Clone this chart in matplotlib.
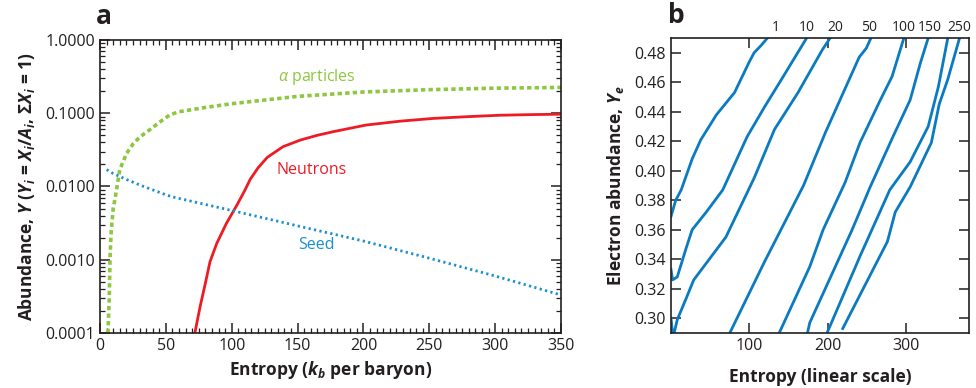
import matplotlib
matplotlib.use("Agg")
import matplotlib.pyplot as plt
from matplotlib.ticker import FixedLocator, MultipleLocator, FormatStrFormatter, LogLocator, NullFormatter
import matplotlib.transforms as mtransforms

plt.rcParams["font.family"] = ["Open Sans", "DejaVu Sans"]
plt.rcParams["mathtext.fontset"] = "custom"
plt.rcParams["mathtext.rm"] = "Open Sans"
plt.rcParams["mathtext.it"] = "Open Sans:italic"
plt.rcParams["mathtext.bf"] = "Open Sans:bold"
plt.rcParams["mathtext.bfit"] = "Open Sans:italic:bold"

# ---- panel a data ----
alpha_x = [6, 7, 7.6, 8.5, 10, 11.5, 15, 20, 25, 30, 38, 45, 53, 60, 80, 100, 150, 200, 250, 300, 350]
alpha_y = [1e-4, 3e-4, 1.1e-3, 2.5e-3, 5e-3, 7e-3, 0.017, 0.028, 0.038, 0.047, 0.06, 0.075, 0.095,
           0.105, 0.12, 0.135, 0.17, 0.195, 0.21, 0.22, 0.225]
neut_x = [72, 76, 80, 83.5, 88.6, 96, 104, 110, 114, 120, 127, 139, 152, 165, 177, 202, 228, 253,
          280, 304, 330, 350]
neut_y = [1e-4, 2.3e-4, 4.8e-4, 9.4e-4, 1.67e-3, 3.15e-3, 5.6e-3, 8.9e-3, 0.0125, 0.018, 0.025,
          0.035, 0.043, 0.05, 0.056, 0.069, 0.078, 0.085, 0.09, 0.094, 0.096, 0.097]
seed_x = [5, 10, 20, 30, 40, 50, 55, 100, 150, 200, 250, 300, 350]
seed_y = [0.017, 0.015, 0.0125, 0.0105, 0.009, 0.0077, 0.0072, 0.0047, 0.0029, 0.0018,
          0.00105, 0.0006, 0.00033]

# ---- panel b data: contours, (entropy, Ye) ----
curves_b = [
    ([0, 6, 13, 27, 38, 58, 81, 100, 106, 115, 123],
     [0.369, 0.38, 0.387, 0.408, 0.421, 0.438, 0.453, 0.474, 0.48, 0.485, 0.49]),
    ([0, 2, 8, 19, 27, 45, 66, 97, 119, 141, 173],
     [0.333, 0.326, 0.328, 0.347, 0.36, 0.372, 0.387, 0.423, 0.443, 0.462, 0.49]),
    ([0, 2, 4, 8, 19, 29, 70, 106, 132, 162, 193, 203],
     [0.30, 0.29, 0.29, 0.299, 0.313, 0.326, 0.355, 0.395, 0.428, 0.453, 0.482, 0.49]),
    ([75, 119, 169, 197, 240, 249, 255],
     [0.29, 0.338, 0.39, 0.426, 0.477, 0.483, 0.49]),
    ([138, 177, 194, 222, 241, 267, 282, 297],
     [0.29, 0.335, 0.36, 0.392, 0.419, 0.448, 0.464, 0.49]),
    ([174, 177, 231, 254, 283, 305, 318, 328],
     [0.29, 0.297, 0.36, 0.389, 0.423, 0.448, 0.473, 0.49]),
    ([199, 241, 279, 305, 328, 341, 353],
     [0.29, 0.342, 0.387, 0.406, 0.43, 0.457, 0.49]),
    ([219, 276, 286, 305, 332, 342, 353, 368],
     [0.293, 0.352, 0.372, 0.389, 0.419, 0.445, 0.462, 0.49]),
]
top_labels = ["1", "10", "20", "50", "100", "150", "250"]
top_label_x = [133, 173, 210, 253, 297, 330, 368]

ink = "#231f20"
green = "#8dc63f"
red = "#ed1c24"
blue = "#1b8fd0"
blue_b = "#0a7bc0"

fig = plt.figure(figsize=(9.76, 3.88), dpi=100)

# ================= panel a =================
ax = fig.add_axes([0.1025, 0.1418, 0.4723, 0.7551])
ax.plot(alpha_x, alpha_y, color=green, lw=2.6, linestyle=(0, (1.2, 0.9)))
ax.plot(neut_x, neut_y, color=red, lw=2.0)
ax.plot(seed_x, seed_y, color=blue, lw=2.0, linestyle=(0, (0.8, 1.2)))
ax.set_yscale("log")
ax.set_xlim(0, 350)
ax.set_ylim(1e-4, 1)
ax.xaxis.set_major_locator(MultipleLocator(50))
ax.xaxis.set_minor_locator(MultipleLocator(5))
ax.yaxis.set_major_locator(FixedLocator([1e-4, 1e-3, 1e-2, 1e-1, 1]))
ax.yaxis.set_minor_locator(LogLocator(base=10, subs=range(2, 10), numticks=20))
ax.yaxis.set_minor_formatter(NullFormatter())
ax.yaxis.set_major_formatter(FormatStrFormatter("%.4f"))
ax.tick_params(which="both", direction="in", top=True, right=True, color=ink,
               labelsize=11.5, labelcolor=ink)
ax.tick_params(which="major", length=7, width=1.1)
ax.tick_params(which="minor", length=3.5, width=0.9)
for s in ax.spines.values():
    s.set_color(ink)
    s.set_linewidth(1.2)

ax.text(165, 0.31, r"$\alpha$ particles", color=green, fontsize=11.5, ha="center", va="center")
ax.text(161, 0.017, "Neutrons", color=red, fontsize=11.5, ha="center", va="center")
ax.text(164, 0.0016, "Seed", color=blue, fontsize=11.5, ha="center", va="center")

ax.set_xlabel(r"Entropy ($\mathbfit{k_b}$ per baryon)", fontsize=12.5, fontweight="bold",
              color=ink, labelpad=4)
ax.set_ylabel(r"Abundance, $\mathbfit{Y}$ ($\mathbfit{Y_i}$ = $\mathbfit{X_i}$/$\mathbfit{A_i}$, $\mathbf{\Sigma}\mathbfit{X_i}$ = 1)",
              fontsize=12.5, fontweight="bold", color=ink, labelpad=6)
ax.text(-0.01, 1.035, "a", transform=ax.transAxes, fontsize=19, fontweight="bold",
        color=ink, ha="left", va="bottom")

# ================= panel b =================
bx = fig.add_axes([0.6875, 0.1418, 0.3053, 0.7603])
for cx, cy in curves_b:
    bx.plot(cx, cy, color=blue_b, lw=2.0)
bx.set_xlim(0, 380)
bx.set_ylim(0.29, 0.49)
bx.xaxis.set_major_locator(FixedLocator([100, 200, 300]))
bx.yaxis.set_major_locator(FixedLocator([0.30, 0.32, 0.34, 0.36, 0.38, 0.40, 0.42, 0.44, 0.46, 0.48]))
bx.yaxis.set_major_formatter(FormatStrFormatter("%.2f"))
bx.tick_params(which="major", direction="in", top=True, right=True, length=7, width=1.1,
               color=ink, labelsize=11.5, labelcolor=ink)
for s in bx.spines.values():
    s.set_color(ink)
    s.set_linewidth(1.2)
trans = mtransforms.blended_transform_factory(bx.transData, bx.transAxes)
for lab, lx in zip(top_labels, top_label_x):
    bx.text(lx, 1.01, lab, transform=trans, fontsize=10, color=ink, ha="center", va="bottom")
bx.set_xlabel("Entropy (linear scale)", fontsize=12.5, fontweight="bold", color=ink, labelpad=10)
bx.set_ylabel(r"Electron abundance, $\mathbfit{Y_e}$", fontsize=12.5, fontweight="bold",
              color=ink, labelpad=6)
bx.text(-0.01, 1.03, "b", transform=bx.transAxes, fontsize=19, fontweight="bold",
        color=ink, ha="left", va="bottom")

fig.savefig("out.png", dpi=100)
